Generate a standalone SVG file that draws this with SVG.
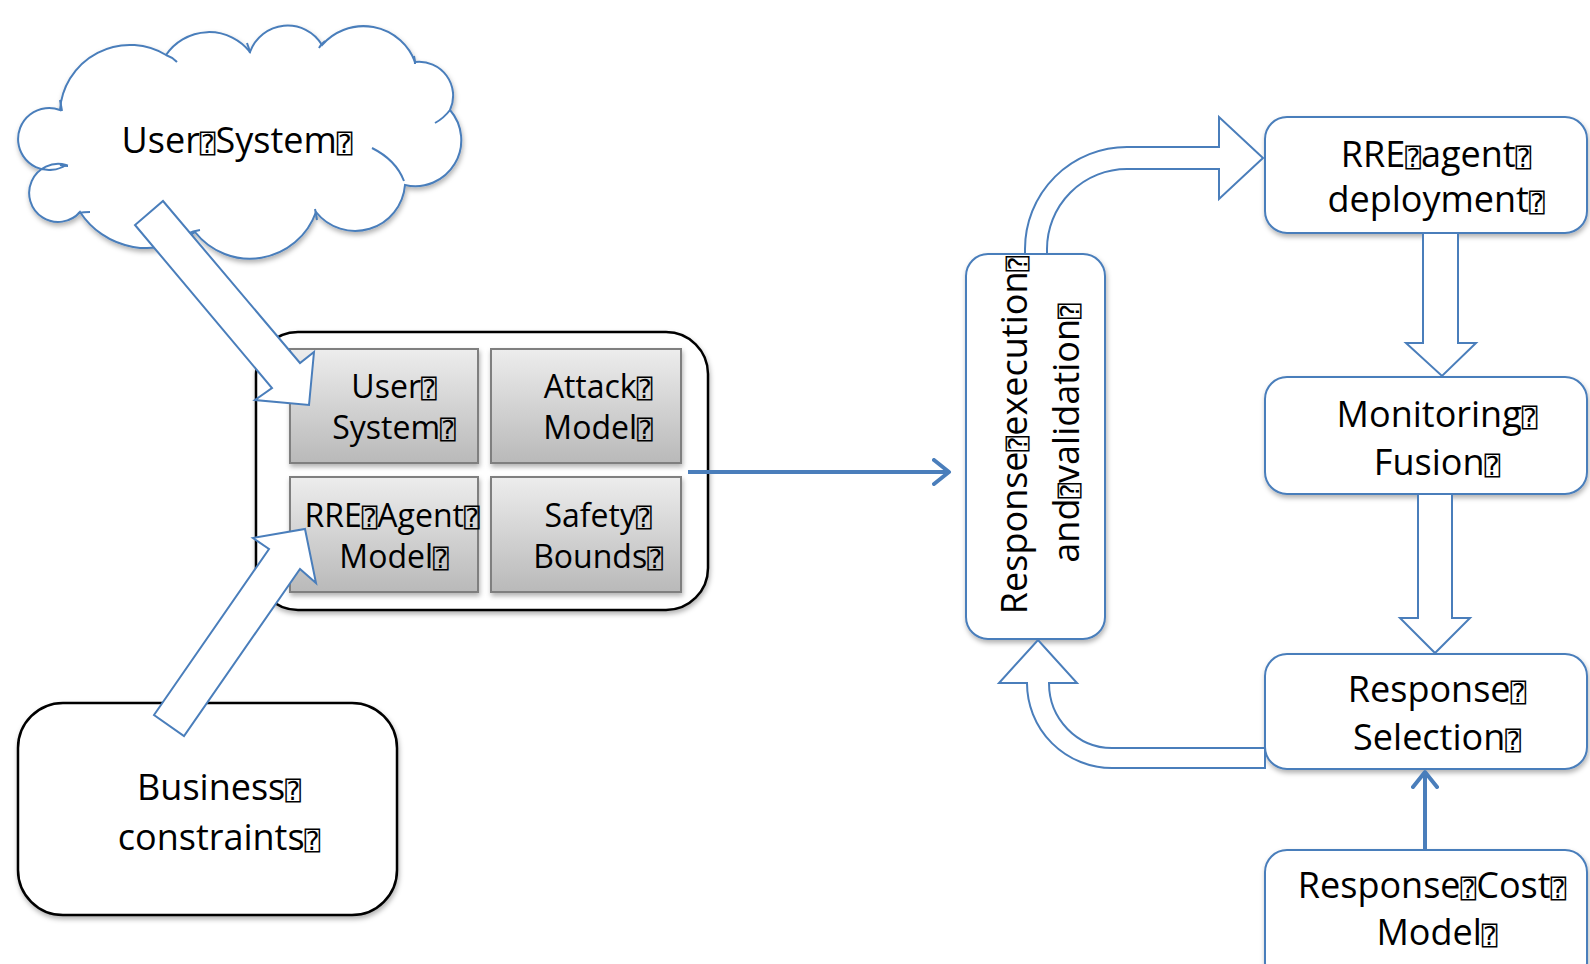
<svg xmlns="http://www.w3.org/2000/svg" width="1590" height="964" viewBox="0 0 1590 964">
<style>
.t{font-family:"Open Sans","DejaVu Sans",sans-serif;font-size:36px;fill:#000;text-anchor:middle}
.s{font-size:32px}
.tf{font-family:"DejaVu Sans Mono","DejaVu Sans",monospace;font-size:26px}
.blue{fill:#fff;stroke:#4a7ebb;stroke-width:2;stroke-linejoin:miter}
.blk{fill:#fff;stroke:#000;stroke-width:2.5}
.gray{fill:url(#gg);stroke:#7f7f7f;stroke-width:2}
.hook{fill:none;stroke:#4a7ebb;stroke-width:2}
.ln{fill:none;stroke:#4a7ebb;stroke-width:4}
</style>
<defs>
<linearGradient id="gg" x1="0" y1="0" x2="0" y2="1">
<stop offset="0" stop-color="#ededed"/>
<stop offset="1" stop-color="#b9b9b9"/>
</linearGradient>
<filter id="sh" x="-10%" y="-10%" width="125%" height="130%">
<feDropShadow dx="1" dy="3" stdDeviation="2.5" flood-color="#000" flood-opacity="0.3"/>
</filter>
<marker id="ah" viewBox="0 0 20 28" refX="17" refY="14" markerWidth="20" markerHeight="28" markerUnits="userSpaceOnUse" orient="auto">
<path d="M2,2 L17,14 L2,26" fill="none" stroke="#4a7ebb" stroke-width="4" stroke-linecap="round" stroke-linejoin="round"/>
</marker>
</defs>
<rect width="1590" height="964" fill="#fff"/>

<g id="cloud">
<path class="blue" filter="url(#sh)" d="M60,110 A70,70 0 0 1 166,55 A52,52 0 0 1 250,52 A40,40 0 0 1 322,45 A55,55 0 0 1 415,62 A34,34 0 0 1 450,110 A46,46 0 0 1 405,185 A50,50 0 0 1 316,212 A70,70 0 0 1 195,232 A80,80 0 0 1 80,212 A29,29 0 1 1 66,165 A31,31 0 1 1 60,110 Z"/>
<path class="hook" d="M60,100 Q61,105 62,111 M166,55 Q172,57 177,62 M247,43 Q249,48 250,53 M319,48 Q321,44 325,41 M414,56 Q415,60 415,64 M450,110 Q444,118 435,123 M372,148 Q396,160 404,181 M315,209 Q316,214 317,220 M187,234 Q193,231 200,230 M78,213 Q84,212 90,212 M60,165 Q64,166 68,166"/>
<text class="t" x="237" y="153">User<tspan class="tf">⍰</tspan>System<tspan class="tf">⍰</tspan></text>
</g>

<g id="container">
<rect class="blk" filter="url(#sh)" x="256" y="332" width="452" height="278" rx="42"/>
</g>
<g id="user-system">
<rect class="gray" filter="url(#sh)" x="290" y="349" width="188" height="114"/>
<text class="t s" x="394" y="398">User<tspan class="tf">⍰</tspan></text>
<text class="t s" x="394" y="439">System<tspan class="tf">⍰</tspan></text>
</g>
<g id="attack-model">
<rect class="gray" filter="url(#sh)" x="491" y="349" width="190" height="114"/>
<text class="t s" x="598" y="398">Attack<tspan class="tf">⍰</tspan></text>
<text class="t s" x="598" y="439">Model<tspan class="tf">⍰</tspan></text>
</g>
<g id="rre-agent-model">
<rect class="gray" filter="url(#sh)" x="290" y="477" width="188" height="115"/>
<text class="t s" x="392" y="527">RRE<tspan class="tf">⍰</tspan>Agent<tspan class="tf">⍰</tspan></text>
<text class="t s" x="394" y="568">Model<tspan class="tf">⍰</tspan></text>
</g>
<g id="safety-bounds">
<rect class="gray" filter="url(#sh)" x="491" y="477" width="190" height="115"/>
<text class="t s" x="598" y="527">Safety<tspan class="tf">⍰</tspan></text>
<text class="t s" x="598" y="568">Bounds<tspan class="tf">⍰</tspan></text>
</g>

<g id="business">
<rect class="blk" filter="url(#sh)" x="18" y="703" width="379" height="212" rx="45"/>
<text class="t" x="219" y="800">Business<tspan class="tf">⍰</tspan></text>
<text class="t" x="219" y="850">constraints<tspan class="tf">⍰</tspan></text>
</g>

<g id="response-exec">
<rect class="blue" filter="url(#sh)" x="966" y="254" width="139" height="385" rx="22"/>
<text class="t" transform="translate(1027,435) rotate(-90)">Response<tspan class="tf">⍰</tspan>execution<tspan class="tf">⍰</tspan></text>
<text class="t" transform="translate(1079,433) rotate(-90)">and<tspan class="tf">⍰</tspan>validation<tspan class="tf">⍰</tspan></text>
</g>

<g id="rre-deploy">
<rect class="blue" filter="url(#sh)" x="1265" y="117" width="322" height="116" rx="22"/>
<text class="t" x="1436" y="167">RRE<tspan class="tf">⍰</tspan>agent<tspan class="tf">⍰</tspan></text>
<text class="t" x="1436" y="212">deployment<tspan class="tf">⍰</tspan></text>
</g>
<g id="monitoring">
<rect class="blue" filter="url(#sh)" x="1265" y="377" width="322" height="117" rx="22"/>
<text class="t" x="1437" y="427">Monitoring<tspan class="tf">⍰</tspan></text>
<text class="t" x="1437" y="475">Fusion<tspan class="tf">⍰</tspan></text>
</g>
<g id="selection">
<rect class="blue" filter="url(#sh)" x="1265" y="654" width="322" height="115" rx="22"/>
<text class="t" x="1437" y="702">Response<tspan class="tf">⍰</tspan></text>
<text class="t" x="1437" y="750">Selection<tspan class="tf">⍰</tspan></text>
</g>
<g id="cost-model">
<rect class="blue" filter="url(#sh)" x="1265" y="850" width="322" height="135" rx="22"/>
<text class="t" x="1432" y="898">Response<tspan class="tf">⍰</tspan>Cost<tspan class="tf">⍰</tspan></text>
<text class="t" x="1437" y="945">Model<tspan class="tf">⍰</tspan></text>
</g>

<g id="connectors">
<polygon class="blue" points="163,201 300,363 314,352 309,405 255,400 272,388 135,225"/>
<polygon class="blue" points="154,715 269,549 253,538 305,529 316,583 300,569 184,736"/>
<line class="ln" x1="688" y1="472" x2="949" y2="472" marker-end="url(#ah)"/>
<path class="blue" d="M1025,254 L1025,249 A102,102 0 0 1 1127,147 L1219,147 L1219,117 L1263,158 L1219,199 L1219,169 L1127,169 A80,80 0 0 0 1047,249 L1047,254 Z"/>
<polygon class="blue" points="1423,233 1458,233 1458,343 1476,343 1442,376 1406,343 1423,343"/>
<polygon class="blue" points="1418,494 1452,494 1452,618 1470,618 1435,653 1400,618 1418,618"/>
<path class="blue" d="M1265,748 L1112,748 A63,65 0 0 1 1049,683 L1077,683 L1038,640 L999,683 L1027,683 A85,85 0 0 0 1112,768 L1265,768 Z"/>
<line class="ln" x1="1425" y1="849" x2="1425" y2="772" marker-end="url(#ah)"/>
</g>
</svg>
